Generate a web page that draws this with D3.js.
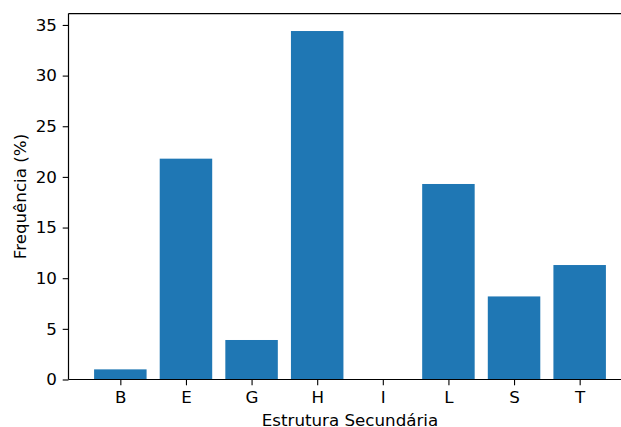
<!DOCTYPE html>
<html><head><meta charset="utf-8">
<script src="https://cdn.jsdelivr.net/npm/d3@7"></script>
<style>body{margin:0;background:#fff}text{font-family:"DejaVu Sans",sans-serif;fill:#000}</style>
</head><body>
<svg id="c" width="621" height="427"></svg>
<script>
const categories = ["B","E","G","H","I","L","S","T"];
const values = [1.0, 21.8, 3.9, 34.4, 0.0, 19.3, 8.2, 11.3];
const yTicks = [0,5,10,15,20,25,30,35];

const svg = d3.select("#c");
const L = 68.5, R = 631.5, T = 13.6, B = 379.5;
const n = categories.length;
const x = d3.scaleLinear().domain([-0.79, n - 1 + 0.79]).range([L, R]);
const y = d3.scaleLinear().domain([0, d3.max(values) * 1.05]).range([B, T]);
const bw = 0.8;

svg.selectAll("rect.bar").data(values).join("rect")
  .attr("class","bar")
  .attr("x",(d,i)=>x(i-bw/2)).attr("width",x(bw)-x(0))
  .attr("y",d=>y(d)).attr("height",d=>B-y(d))
  .attr("fill","#1f77b4");

const fs = "16.7px";
const tk = 5.8;
const yAxis = d3.axisLeft(y).tickValues(yTicks).tickSize(tk).tickPadding(tk).tickFormat(d3.format("d"));
const gy = svg.append("g").attr("transform",`translate(${L},0)`).call(yAxis);
gy.select(".domain").remove();
gy.selectAll("text").style("font-size",fs).attr("font-family","DejaVu Sans");
gy.selectAll("line").attr("stroke","#000").attr("stroke-width",1.1);

const xAxis = d3.axisBottom(x).tickValues(d3.range(n)).tickSize(tk).tickPadding(tk).tickFormat(i=>categories[i]);
const gx = svg.append("g").attr("transform",`translate(0,${B})`).call(xAxis);
gx.select(".domain").remove();
gx.selectAll("text").style("font-size",fs).attr("font-family","DejaVu Sans");
gx.selectAll("line").attr("stroke","#000").attr("stroke-width",1.1);

// spines
const sp = svg.append("g").attr("stroke","#000").attr("stroke-width",1.2).attr("fill","none");
sp.append("line").attr("x1",L).attr("x2",L).attr("y1",T).attr("y2",B);
sp.append("line").attr("x1",L).attr("x2",R).attr("y1",B).attr("y2",B);
sp.append("line").attr("x1",L).attr("x2",R).attr("y1",T).attr("y2",T);
sp.append("line").attr("x1",R).attr("x2",R).attr("y1",T).attr("y2",B);

svg.append("text").attr("x",(L+R)/2).attr("y",425.5).attr("text-anchor","middle")
  .style("font-size",fs).text("Estrutura Secundária");
svg.append("text").attr("transform",`translate(25.5,${(T+B)/2}) rotate(-90)`).attr("text-anchor","middle")
  .style("font-size",fs).text("Frequência (%)");
</script>
</body></html>
